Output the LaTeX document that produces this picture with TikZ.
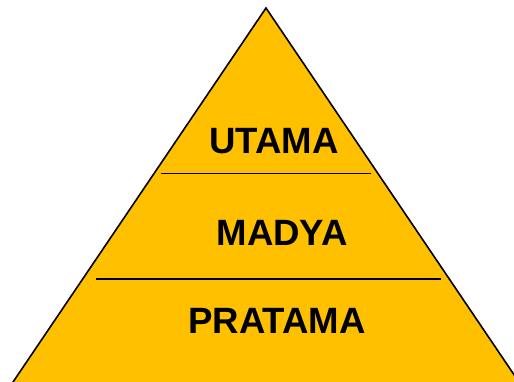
\documentclass[tikz,border=0pt]{standalone}
\usepackage{fontspec}
\setmainfont{Liberation Sans}
\definecolor{gold}{HTML}{FFC000}
\begin{document}
\begin{tikzpicture}[x=1pt,y=-1pt,
  level/.style={font=\fontsize{36.6}{40}\selectfont\bfseries, inner sep=0pt, anchor=center},
  divider/.style={draw=black, line width=1.7pt}]
\useasboundingbox (0,0) rectangle (514,382);
\clip (0,0) rectangle (514,382);
\coordinate (apex) at (266,8);
\coordinate (bl) at (11,385);
\coordinate (br) at (521,385);
\filldraw[fill=gold, draw=black, line width=1.6pt] (apex) -- (br) -- (bl) -- cycle;
\coordinate (l1a) at (161,173.5);
\coordinate (l1b) at (371,173.5);
\coordinate (l2a) at (96,279);
\coordinate (l2b) at (441,279);
\draw[divider] (l1a) -- (l1b);
\draw[divider] (l2a) -- (l2b);
\node[level] (utama) at (274,141.5) {UTAMA};
\node[level] (madya) at (282,232.5) {MADYA};
\node[level] (pratama) at (277,321) {PRATAMA};
\end{tikzpicture}
\end{document}
